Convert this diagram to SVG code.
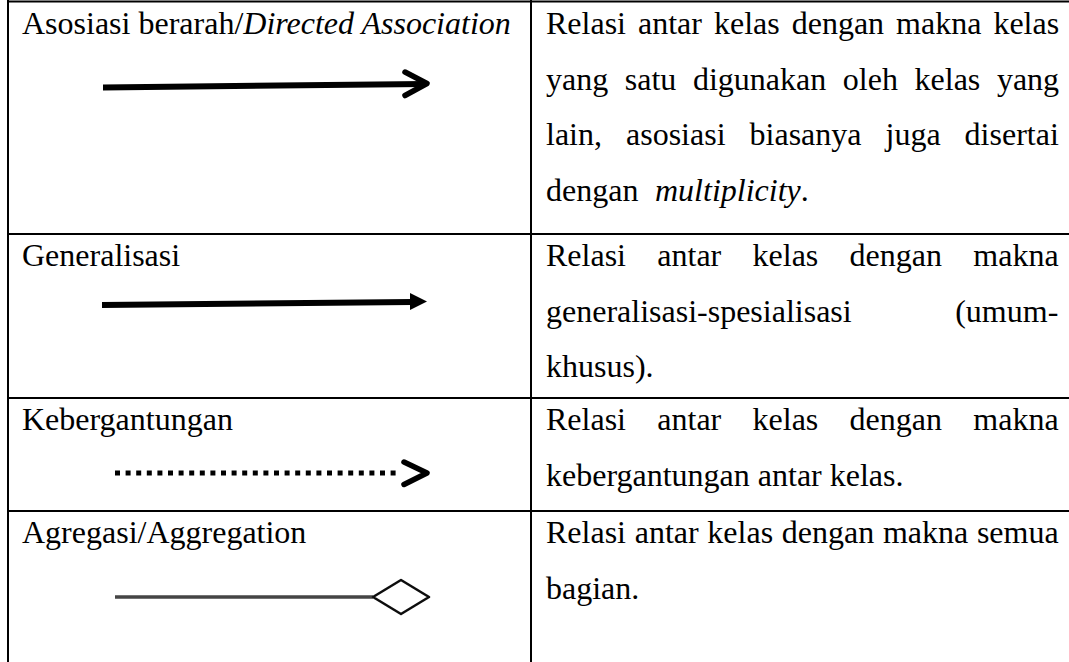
<svg xmlns="http://www.w3.org/2000/svg" width="1069" height="662" viewBox="0 0 1069 662">
  <style>
    .grid { stroke: #000; stroke-width: 2; fill: none; }
    .txt { font-family: "Liberation Serif", "Times New Roman", serif; font-size: 32px; fill: #000; }
    .it { font-style: italic; }
    .bold { stroke: #000; stroke-width: 5.5; fill: none; stroke-linecap: round; stroke-linejoin: round; }
    .shaft { stroke: #000; stroke-width: 6; fill: none; }
    .dots { stroke: #000; stroke-width: 5; fill: none; stroke-dasharray: 5 5.6; }
  </style>
  <defs>
    <filter id="soft" x="-5%" y="-50%" width="110%" height="200%">
      <feGaussianBlur stdDeviation="0.6"/>
    </filter>
  </defs>

  <rect width="1069" height="662" fill="#fff"/>

  <!-- table rules -->
  <g id="table-grid" class="grid">
    <line x1="7" y1="1.5" x2="1069" y2="1.5"/>
    <line x1="8" y1="0" x2="8" y2="662"/>
    <line x1="531" y1="0" x2="531" y2="662"/>
    <line x1="7" y1="234" x2="1069" y2="234"/>
    <line x1="7" y1="398" x2="1069" y2="398"/>
    <line x1="7" y1="511" x2="1069" y2="511"/>
  </g>

  <!-- row 1: directed association -->
  <g id="row-directed-association">
    <text class="txt" x="22" y="34">Asosiasi berarah/<tspan class="it">Directed Association</tspan></text>
    <text class="txt" x="546" y="34" word-spacing="4">Relasi antar kelas dengan makna kelas</text>
    <text class="txt" x="546" y="89.5" word-spacing="8.6">yang satu digunakan oleh kelas yang</text>
    <text class="txt" x="546" y="145" word-spacing="16">lain, asosiasi biasanya juga disertai</text>
    <text class="txt" x="546" y="200.5">dengan <tspan class="it" x="655">multiplicity</tspan>.</text>
    <g id="symbol-directed-association">
      <path class="shaft" d="M103 87.5 L424 84"/>
      <path class="bold" d="M405 72 L427 83.5 L405 95.5"/>
    </g>
  </g>

  <!-- row 2: generalization -->
  <g id="row-generalization">
    <text class="txt" x="22" y="266">Generalisasi</text>
    <text class="txt" x="546" y="266" word-spacing="23.3">Relasi antar kelas dengan makna</text>
    <text class="txt" x="546" y="321.5" word-spacing="95.5">generalisasi-spesialisasi (umum-</text>
    <text class="txt" x="546" y="377">khusus).</text>
    <g id="symbol-generalization">
      <path class="shaft" d="M102 305 L412 302"/>
      <path d="M410 293 L427 301.5 L410 310 Z" fill="#000"/>
    </g>
  </g>

  <!-- row 3: dependency -->
  <g id="row-dependency">
    <text class="txt" x="22" y="430">Kebergantungan</text>
    <text class="txt" x="546" y="430" word-spacing="23.3">Relasi antar kelas dengan makna</text>
    <text class="txt" x="546" y="485.5">kebergantungan antar kelas.</text>
    <g id="symbol-dependency">
      <line class="dots" x1="115" y1="473" x2="400" y2="473"/>
      <path class="bold" d="M404 462 L427 473 L404 484.5"/>
    </g>
  </g>

  <!-- row 4: aggregation -->
  <g id="row-aggregation">
    <text class="txt" x="22" y="543">Agregasi/Aggregation</text>
    <text class="txt" x="546" y="543" word-spacing="0.7">Relasi antar kelas dengan makna semua</text>
    <text class="txt" x="546" y="598.5">bagian.</text>
    <g id="symbol-aggregation" filter="url(#soft)">
      <line x1="115" y1="597" x2="373" y2="597" stroke="#444" stroke-width="3.5"/>
      <path d="M373 597 L401 580 L429 597 L401 614 Z" fill="#fff" stroke="#111" stroke-width="2.6" stroke-linejoin="round"/>
    </g>
  </g>
</svg>
